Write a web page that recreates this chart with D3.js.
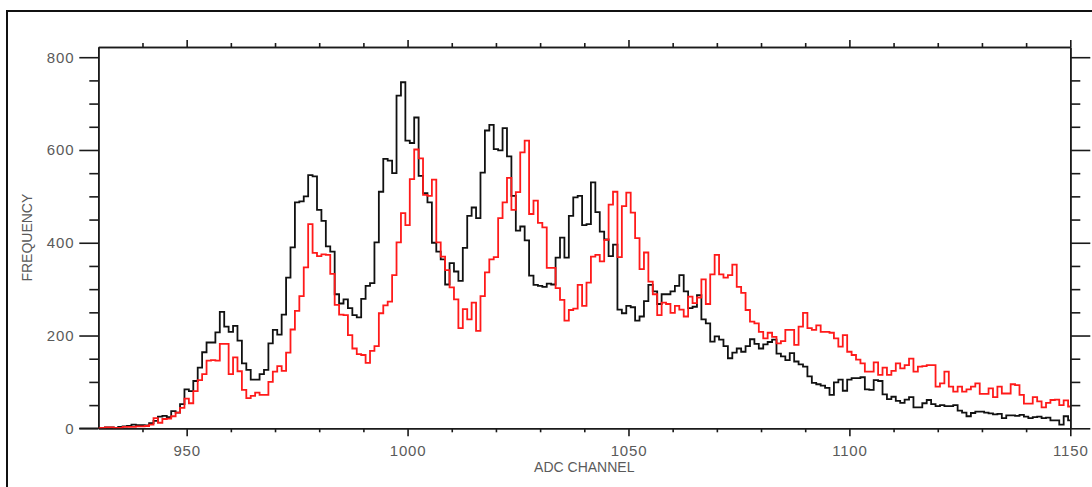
<!DOCTYPE html>
<html>
<head>
<meta charset="utf-8">
<script src="https://cdn.jsdelivr.net/npm/d3@7"></script>
<style>
  html, body { margin: 0; padding: 0; background: #fff; }
  svg { display: block; }
  text { font-family: "Liberation Sans", Arial, Helvetica, sans-serif; }
</style>
</head>
<body>
<svg id="chart" width="1092" height="487"></svg>
<script>
// ---- data ----
const firstChannel = 930;
const blackCounts = [
  0,1,2,2,1,3,4,5,8,7,
  7,6,11,16,25,27,24,37,34,52,
  84,80,102,131,164,185,185,207,251,219,
  208,221,189,140,126,105,105,117,126,183,
  212,202,245,325,390,487,489,500,546,543,
  471,447,392,381,289,269,278,259,244,239,
  279,307,313,401,510,581,577,550,717,746,
  620,615,670,544,507,487,400,381,364,310,
  356,338,318,389,458,476,453,551,642,654,
  602,599,647,586,501,426,435,405,329,309,
  307,305,312,310,368,411,368,458,498,501,
  438,440,530,466,424,407,371,396,256,248,
  264,261,232,241,274,309,295,268,289,289,
  295,307,330,295,259,262,287,235,226,187,
  198,191,177,151,163,172,165,177,192,182,
  172,181,186,191,161,155,147,162,144,138,
  133,112,98,95,92,87,72,99,105,81,
  105,108,108,110,84,83,104,102,73,63,
  68,59,55,62,67,45,45,54,61,52,
  48,50,48,48,50,38,34,26,33,36,
  36,34,32,30,31,22,28,28,27,29,
  25,22,24,25,22,23,17,17,8,26,17
];
const redCounts = [
  0,1,2,2,1,1,3,3,3,4,
  4,5,8,22,12,20,21,26,34,44,
  64,54,80,104,117,146,147,146,182,182,
  117,153,123,83,65,70,77,72,72,100,
  122,134,124,163,213,253,285,347,440,378,
  371,375,374,333,266,245,244,201,172,160,
  158,141,167,177,248,265,273,330,401,464,
  438,537,601,582,503,501,536,401,370,341,
  304,278,216,257,235,271,210,285,336,364,
  369,453,487,540,471,509,595,620,462,491,
  443,433,346,346,302,277,232,255,258,309,
  264,314,370,374,360,406,482,510,369,479,
  508,465,410,343,379,316,289,244,271,268,
  249,264,256,241,284,270,282,321,268,332,
  374,332,325,330,353,305,292,255,230,226,
  208,194,206,197,183,188,212,212,180,219,
  249,216,212,222,208,208,206,194,176,201,
  165,158,148,140,122,122,142,115,131,115,
  124,140,129,136,150,122,133,134,136,136,
  90,97,122,90,79,90,79,84,90,97,
  74,74,86,67,90,75,75,95,93,72,
  53,53,67,58,45,55,61,62,50,60,47
];
const xMajorTicks = [950, 1000, 1050, 1100, 1150];
const xTickLabels = ["950", "1000", "1050", "1100", "1150"];
const xMinorTicks = [940,960,970,980,990,1010,1020,1030,1040,1060,1070,1080,1090,1110,1120,1130,1140];
const yMajorTicks = [0, 200, 400, 600, 800];
const yTickLabels = ["0", "200", "400", "600", "800"];
const yMinorTicks = [50,100,150,250,300,350,450,500,550,650,700,750];
const xDomain = [930, 1150];
const yDomain = [0, 822];
const xTitle = "ADC CHANNEL";
const yTitle = "FREQUENCY";

// ---- layout ----
const L = 98.3, R = 1070.3, T = 47, B = 428.3;
const svg = d3.select("#chart");
const x = d3.scaleLinear().domain(xDomain).range([L, R]);
const y = d3.scaleLinear().domain(yDomain).range([B, T]);
const axisColor = "#1a1a1a";
const textColor = "#5a5a5a";

// outer frame
svg.append("rect").attr("x", 7).attr("y", 11).attr("width", 1200).attr("height", 600)
  .attr("fill", "none").attr("stroke", "#111").attr("stroke-width", 2);

// clip
svg.append("clipPath").attr("id", "plotclip").append("rect")
  .attr("x", L).attr("y", T).attr("width", R - L).attr("height", B - T);

function styleAxis(g) {
  g.selectAll("path.domain").attr("stroke", axisColor).attr("stroke-width", 1.6);
  g.selectAll(".tick line").attr("stroke", axisColor).attr("stroke-width", 1.6);
  g.selectAll(".tick text").attr("fill", textColor).style("font-size", "15px")
    .style("letter-spacing", "0.8px")
    .style("font-family", "'Liberation Sans', Arial, sans-serif");
}

// left axis
svg.append("g").attr("transform", `translate(${L},0)`)
  .call(d3.axisLeft(y).tickValues(yMinorTicks).tickSize(9).tickSizeOuter(0).tickFormat(""))
  .call(styleAxis);
svg.append("g").attr("transform", `translate(${L},0)`)
  .call(d3.axisLeft(y).tickValues(yMajorTicks).tickSize(19).tickSizeOuter(0).tickPadding(5)
    .tickFormat((d, i) => yTickLabels[i]))
  .call(styleAxis);
// right axis
svg.append("g").attr("transform", `translate(${R},0)`)
  .call(d3.axisRight(y).tickValues(yMinorTicks).tickSize(10).tickSizeOuter(0).tickFormat(""))
  .call(styleAxis);
svg.append("g").attr("transform", `translate(${R},0)`)
  .call(d3.axisRight(y).tickValues(yMajorTicks).tickSize(20).tickSizeOuter(0).tickFormat(""))
  .call(styleAxis);
// bottom axis
svg.append("g").attr("transform", `translate(0,${B})`)
  .call(d3.axisBottom(x).tickValues(xMinorTicks).tickSize(4).tickSizeOuter(0).tickFormat(""))
  .call(styleAxis);
svg.append("g").attr("transform", `translate(0,${B})`)
  .call(d3.axisBottom(x).tickValues(xMajorTicks).tickSize(8).tickSizeOuter(0).tickPadding(9)
    .tickFormat((d, i) => xTickLabels[i]))
  .call(styleAxis);
// extend bottom axis line to the left tick
svg.append("line").attr("x1", L - 19).attr("x2", L).attr("y1", B).attr("y2", B)
  .attr("stroke", axisColor).attr("stroke-width", 1.6);
// top axis
svg.append("g").attr("transform", `translate(0,${T})`)
  .call(d3.axisTop(x).tickValues(xMinorTicks).tickSize(4).tickSizeOuter(0).tickFormat(""))
  .call(styleAxis);
svg.append("g").attr("transform", `translate(0,${T})`)
  .call(d3.axisTop(x).tickValues(xMajorTicks).tickSize(7).tickSizeOuter(0).tickFormat(""))
  .call(styleAxis);

// titles
svg.append("text").attr("x", (L + R) / 2).attr("y", 472).attr("text-anchor", "middle")
  .attr("fill", textColor).style("font-size", "14px").text(xTitle);
svg.append("text").attr("transform", `translate(32,${(T + B) / 2}) rotate(-90)`)
  .attr("text-anchor", "middle").attr("fill", textColor).style("font-size", "14px").text(yTitle);

// histograms
function toPoints(arr) { return arr.map((v, i) => [firstChannel + i, v]); }
const stepLine = d3.line().x(d => x(d[0])).y(d => y(d[1])).curve(d3.curveStep);
const plot = svg.append("g").attr("clip-path", "url(#plotclip)");
plot.append("path").datum(toPoints(blackCounts)).attr("d", stepLine)
  .attr("fill", "none").attr("stroke", "#111").attr("stroke-width", 1.8);
plot.append("path").datum(toPoints(redCounts)).attr("d", stepLine)
  .attr("fill", "none").attr("stroke", "#ff1a1a").attr("stroke-width", 1.8);
</script>
</body>
</html>
